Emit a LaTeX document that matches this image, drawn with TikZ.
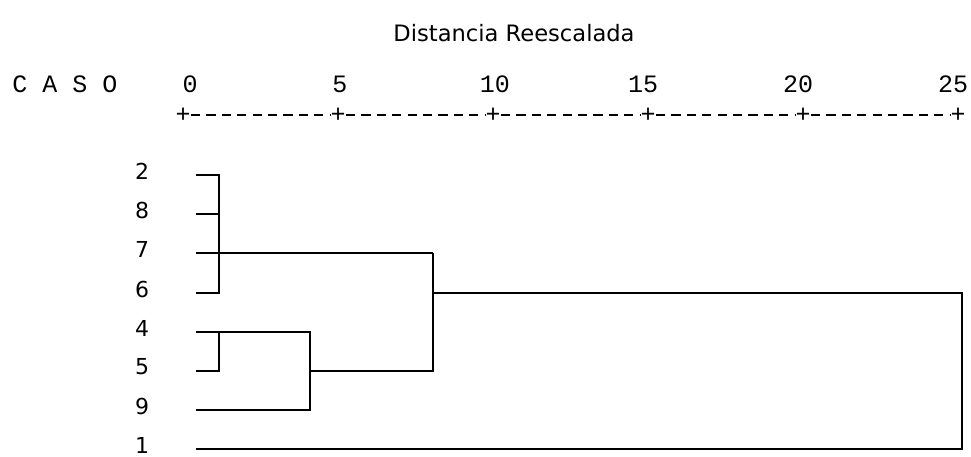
\documentclass[tikz,border=0pt]{standalone}
\usepackage{fontspec}
\setmainfont{DejaVu Sans}
\setmonofont{Liberation Mono}
\usepackage{amsmath}

\tikzset{
  caso/.style={inner sep=0pt, font=\fontsize{11}{13}\selectfont},
  axnum/.style={inner sep=0pt, font=\ttfamily\fontsize{12.5}{14}\selectfont},
  tick/.style={inner sep=0pt, minimum size=6pt, font=\ttfamily\fontsize{12.5}{14}\selectfont},
  axdash/.style={line width=0.6pt, dash pattern=on 4.6pt off 3.1pt},
  rama/.style={line width=1.1pt}
}

\begin{document}
\begin{tikzpicture}[x=0.5pt, y=-0.5pt]
	\useasboundingbox (0,0) rectangle (971,456);
	\node[caso, font=\fontsize{11.3}{13}\selectfont] (titulo) at (514,33) {Distancia Reescalada};
	\node[axnum] (casos) at (65,84) {C A S O};
	% escala
	\foreach \v/\x in {0/190,5/340,10/495,15/643,20/798,25/953}
		\node[axnum] (d\v) at (\x,84) {\v};
	\foreach \i in {0,...,5}
		\node[tick] (t\i) at (183+155*\i,115) {+};
	\foreach \i [count=\j] in {0,...,4}
		\draw[axdash] (t\i.east) -- (t\j.west);
	% casos
	\foreach \c/\y in {2/175,8/214,7/253,6/293,4/332,5/371,9/410,1/449} {
		\node[caso] (n\c) at (142,\y-4) {\c};
		\coordinate (l\c) at (196,\y);
	}
	\coordinate (k1) at (219,0);
	\coordinate (k2) at (310,0);
	\coordinate (k3) at (433,0);
	\coordinate (k4) at (962,0);
	% dendrograma
	\draw[rama] (l2) -- (l2 -| k1) -- (l6 -| k1) -- (l6);
	\draw[rama] (l8) -- (l8 -| k1);
	\draw[rama] (l7) -- (l7 -| k3);
	\draw[rama] (l4) -- (l4 -| k2) -- (l9 -| k2) -- (l9);
	\draw[rama] (l4 -| k1) -- (l5 -| k1) -- (l5);
	\draw[rama] (l5 -| k2) -- (l5 -| k3) -- (l7 -| k3);
	\draw[rama] (l6 -| k3) -- (l6 -| k4) -- (l1 -| k4) -- (l1);
\end{tikzpicture}
\end{document}
